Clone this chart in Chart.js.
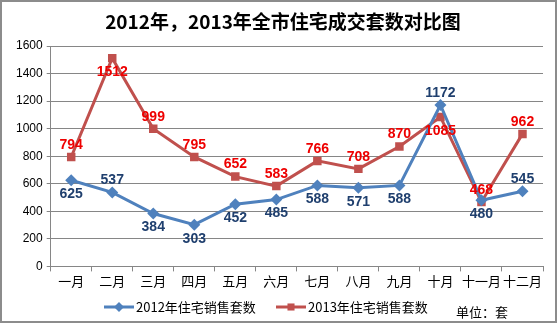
<!DOCTYPE html>
<html>
<head>
<meta charset="utf-8">
<script src="https://cdn.jsdelivr.net/npm/chart.js@4/dist/chart.umd.min.js"></script>
<style>
  html, body { margin: 0; padding: 0; background: #fff; }
  #wrap { width: 557px; height: 323px; position: relative; box-sizing: border-box; border: 2px solid #8c8c8c; }
</style>
</head>
<body>
<div id="wrap"><canvas id="salesChart" width="553" height="319"></canvas></div>
<script>
// chart data
const months = ["一月", "二月", "三月", "四月", "五月", "六月", "七月", "八月", "九月", "十月", "十一月", "十二月"];
const sales2012 = [625, 537, 384, 303, 452, 485, 588, 571, 588, 1172, 480, 545];
const sales2013 = [794, 1512, 999, 795, 652, 583, 766, 708, 870, 1085, 468, 962];
const yTicks = [0, 200, 400, 600, 800, 1000, 1200, 1400, 1600];
// label side for each point: 1 = above, -1 = below
const side2012 = [-1, 1, -1, -1, -1, -1, -1, -1, -1, 1, -1, 1];
const side2013 = [1, -1, 1, 1, 1, 1, 1, 1, 1, -1, 1, 1];

const FONT = "'Liberation Sans', 'Noto Sans CJK SC', sans-serif";
const CJK = "'Noto Sans CJK SC', 'Liberation Sans', sans-serif";

// draws value labels, title, legend and unit note
const extras = {
  id: "extras",
  afterDatasetsDraw(chart) {
    const ctx = chart.ctx;
    ctx.save();
    ctx.textAlign = "center";
    ctx.textBaseline = "middle";
    const sets = [
      { meta: chart.getDatasetMeta(0), data: sales2012, side: side2012, color: "#1f3f6e" },
      { meta: chart.getDatasetMeta(1), data: sales2013, side: side2013, color: "#ee0000" },
    ];
    sets.forEach((s) => {
      ctx.fillStyle = s.color;
      ctx.font = "bold 14px " + FONT;
      s.meta.data.forEach((pt, i) => {
        const dy = s.side[i] > 0 ? -12 : 14;
        ctx.fillText(String(s.data[i]), pt.x, pt.y + dy);
      });
    });

    // title
    ctx.fillStyle = "#000";
    ctx.font = "bold 19px " + CJK;
    ctx.fillText("2012年，2013年全市住宅成交套数对比图", 281, 20);

    // legend
    const items = [
      { x: 102, text: "2012年住宅销售套数", color: "#4f81bd", style: "rectRot", r: 5 },
      { x: 274, text: "2013年住宅销售套数", color: "#c0504d", style: "rect", r: 5 },
    ];
    items.forEach((it) => {
      const y = 305;
      ctx.strokeStyle = it.color;
      ctx.lineWidth = 3;
      ctx.beginPath();
      ctx.moveTo(it.x, y);
      ctx.lineTo(it.x + 30, y);
      ctx.stroke();
      ctx.fillStyle = it.color;
      Chart.helpers.drawPoint(ctx, { pointStyle: it.style, radius: it.r, borderWidth: 0 }, it.x + 15, y);
      ctx.fillStyle = "#000";
      ctx.textAlign = "left";
      ctx.font = "13px " + CJK;
      ctx.fillText(it.text, it.x + 32, y);
    });
    ctx.font = "13px " + CJK;
    ctx.fillText("单位：套", 454, 310);
    ctx.restore();
  },
};

const ctx = document.getElementById("salesChart").getContext("2d");
const salesChart = new Chart(ctx, {
  type: "line",
  data: {
    labels: months,
    datasets: [
      {
        label: "2012年住宅销售套数",
        data: sales2012,
        borderColor: "#4f81bd",
        backgroundColor: "#4f81bd",
        borderWidth: 3,
        pointStyle: "rectRot",
        pointRadius: 6,
        pointBorderWidth: 0,
        tension: 0,
      },
      {
        label: "2013年住宅销售套数",
        data: sales2013,
        borderColor: "#c0504d",
        backgroundColor: "#c0504d",
        borderWidth: 3,
        pointStyle: "rect",
        pointRadius: 6,
        pointBorderWidth: 0,
        tension: 0,
      },
    ],
  },
  options: {
    responsive: false,
    animation: false,
    layout: { padding: { top: 44, left: 10, right: 12, bottom: 30 } },
    plugins: {
      legend: { display: false },
      title: { display: false },
      tooltip: { enabled: false },
    },
    scales: {
      x: {
        offset: true,
        grid: { drawOnChartArea: false, color: "#868686", tickLength: 5, offset: true },
        border: { color: "#868686" },
        ticks: { color: "#000", font: { size: 13, family: CJK }, padding: 2, maxRotation: 0, minRotation: 0, autoSkip: false },
      },
      y: {
        min: yTicks[0],
        max: yTicks[yTicks.length - 1],
        afterBuildTicks: (axis) => { axis.ticks = yTicks.map((v) => ({ value: v })); },
        grid: { color: "#868686", tickLength: 4 },
        border: { color: "#868686" },
        ticks: { color: "#000", font: { size: 12, family: FONT }, padding: 4, callback: (v) => String(v) },
      },
    },
  },
  plugins: [extras],
});
</script>
</body>
</html>
